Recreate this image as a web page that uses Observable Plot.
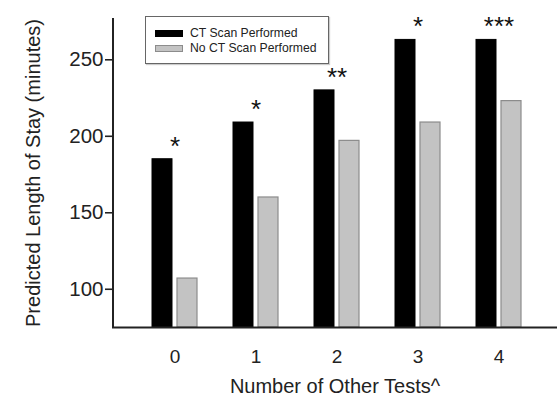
<!DOCTYPE html>
<html>
<head>
<meta charset="utf-8">
<script src="https://cdn.jsdelivr.net/npm/d3@7"></script>
<script src="https://cdn.jsdelivr.net/npm/@observablehq/plot@0.6"></script>
<style>
  html, body { margin: 0; padding: 0; background: #fff; }
  #wrap { position: relative; width: 557px; height: 396px; font-family: Arial, "Liberation Sans", sans-serif; }
  #legend { position: absolute; left: 145px; top: 16px; width: 182px; height: 46px; border: 1px solid #666; background: #fff; box-shadow: 1px 1px 1px #ccc; font-size: 12.2px; color: #222; }
  .row { position: absolute; left: 9px; display: flex; align-items: center; height: 10px; }
  .sw { width: 28px; height: 7px; margin-right: 7px; box-sizing: border-box; }
</style>
</head>
<body>
<div id="wrap">
  <div id="chart"></div>
  <div id="legend"></div>
</div>
<script>
const tests = [0, 1, 2, 3, 4];
const ctScan = [185, 209, 230, 263, 263];
const noCtScan = [107, 160, 197, 209, 223];
const stars = ["*", "*", "**", "*", "***"];
const seriesNames = ["CT Scan Performed", "No CT Scan Performed"];
const yTicks = [100, 150, 200, 250];

const ctData = tests.map((t, i) => ({test: t, value: ctScan[i], star: stars[i]}));
const noData = tests.map((t, i) => ({test: t, value: noCtScan[i]}));

const W = 557;
const marginLeft = 112;
const marginRight = 0;
const tickLen = 7;
const xRange = [112, 561];
const padIn = 0.446, padOut = 0.486;
// offset from the first group's centre to the left edge of the plot frame (for the y-axis line)
const xb = d3.scaleBand(tests, xRange).paddingInner(padIn).paddingOuter(padOut);
const axisDx = marginLeft - (xb(tests[0]) + xb.bandwidth() / 2);
const frameWidth = W - marginLeft - marginRight;

const plot = Plot.plot({
  width: W,
  height: 396,
  marginLeft,
  marginRight,
  marginTop: 18,
  marginBottom: 69,
  style: {fontFamily: 'Arial, "Liberation Sans", sans-serif', fontSize: "19px", color: "#222", background: "#fff"},
  x: {domain: tests, range: xRange, paddingInner: padIn, paddingOuter: padOut, label: null},
  y: {domain: [75, 277], label: null},
  marks: [
    Plot.barY(ctData, {x: "test", y: "value", y1: 75, fill: "#000", stroke: "#000", insetRight: 25}),
    Plot.barY(noData, {x: "test", y: "value", y1: 75, fill: "#c3c3c3", stroke: "#8c8c8c", strokeWidth: 1.2, insetLeft: 25}),
    Plot.text(ctData, {x: "test", y: "value", text: "star", fontSize: 26, dy: -13, fill: "#111"}),
    Plot.axisY({ticks: yTicks, tickSize: 0, tickPadding: 9, label: null, fontSize: 20.5}),
    Plot.axisX({tickSize: 0, tickPadding: 22, label: null, fontSize: 19}),
    Plot.ruleX([tests[0]], {x: (d) => d, dx: axisDx, stroke: "#222", strokeWidth: 2}),
    Plot.ruleY([75], {stroke: "#222", strokeWidth: 2}),
    Plot.tickY(yTicks, {y: (d) => d, dx: -tickLen, insetRight: frameWidth - tickLen, stroke: "#222", strokeWidth: 1.6}),
    Plot.text(["Predicted Length of Stay (minutes)"], {frameAnchor: "left", textAnchor: "middle", dx: -79, rotate: -90, fontSize: 20, fill: "#222"}),
    Plot.text(["Number of Other Tests^"], {frameAnchor: "bottom", textAnchor: "middle", dy: 65, fontSize: 20, fill: "#222"})
  ]
});
document.getElementById("chart").appendChild(plot);

const legend = document.getElementById("legend");
const fills = [["#000", "#000"], ["#c3c3c3", "#8c8c8c"]];
seriesNames.forEach((name, i) => {
  const row = document.createElement("div");
  row.className = "row";
  row.style.top = (11 + i * 15) + "px";
  const sw = document.createElement("div");
  sw.className = "sw";
  sw.style.background = fills[i][0];
  sw.style.border = "1px solid " + fills[i][1];
  row.appendChild(sw);
  const t = document.createElement("span");
  t.textContent = name;
  row.appendChild(t);
  legend.appendChild(row);
});
</script>
</body>
</html>
